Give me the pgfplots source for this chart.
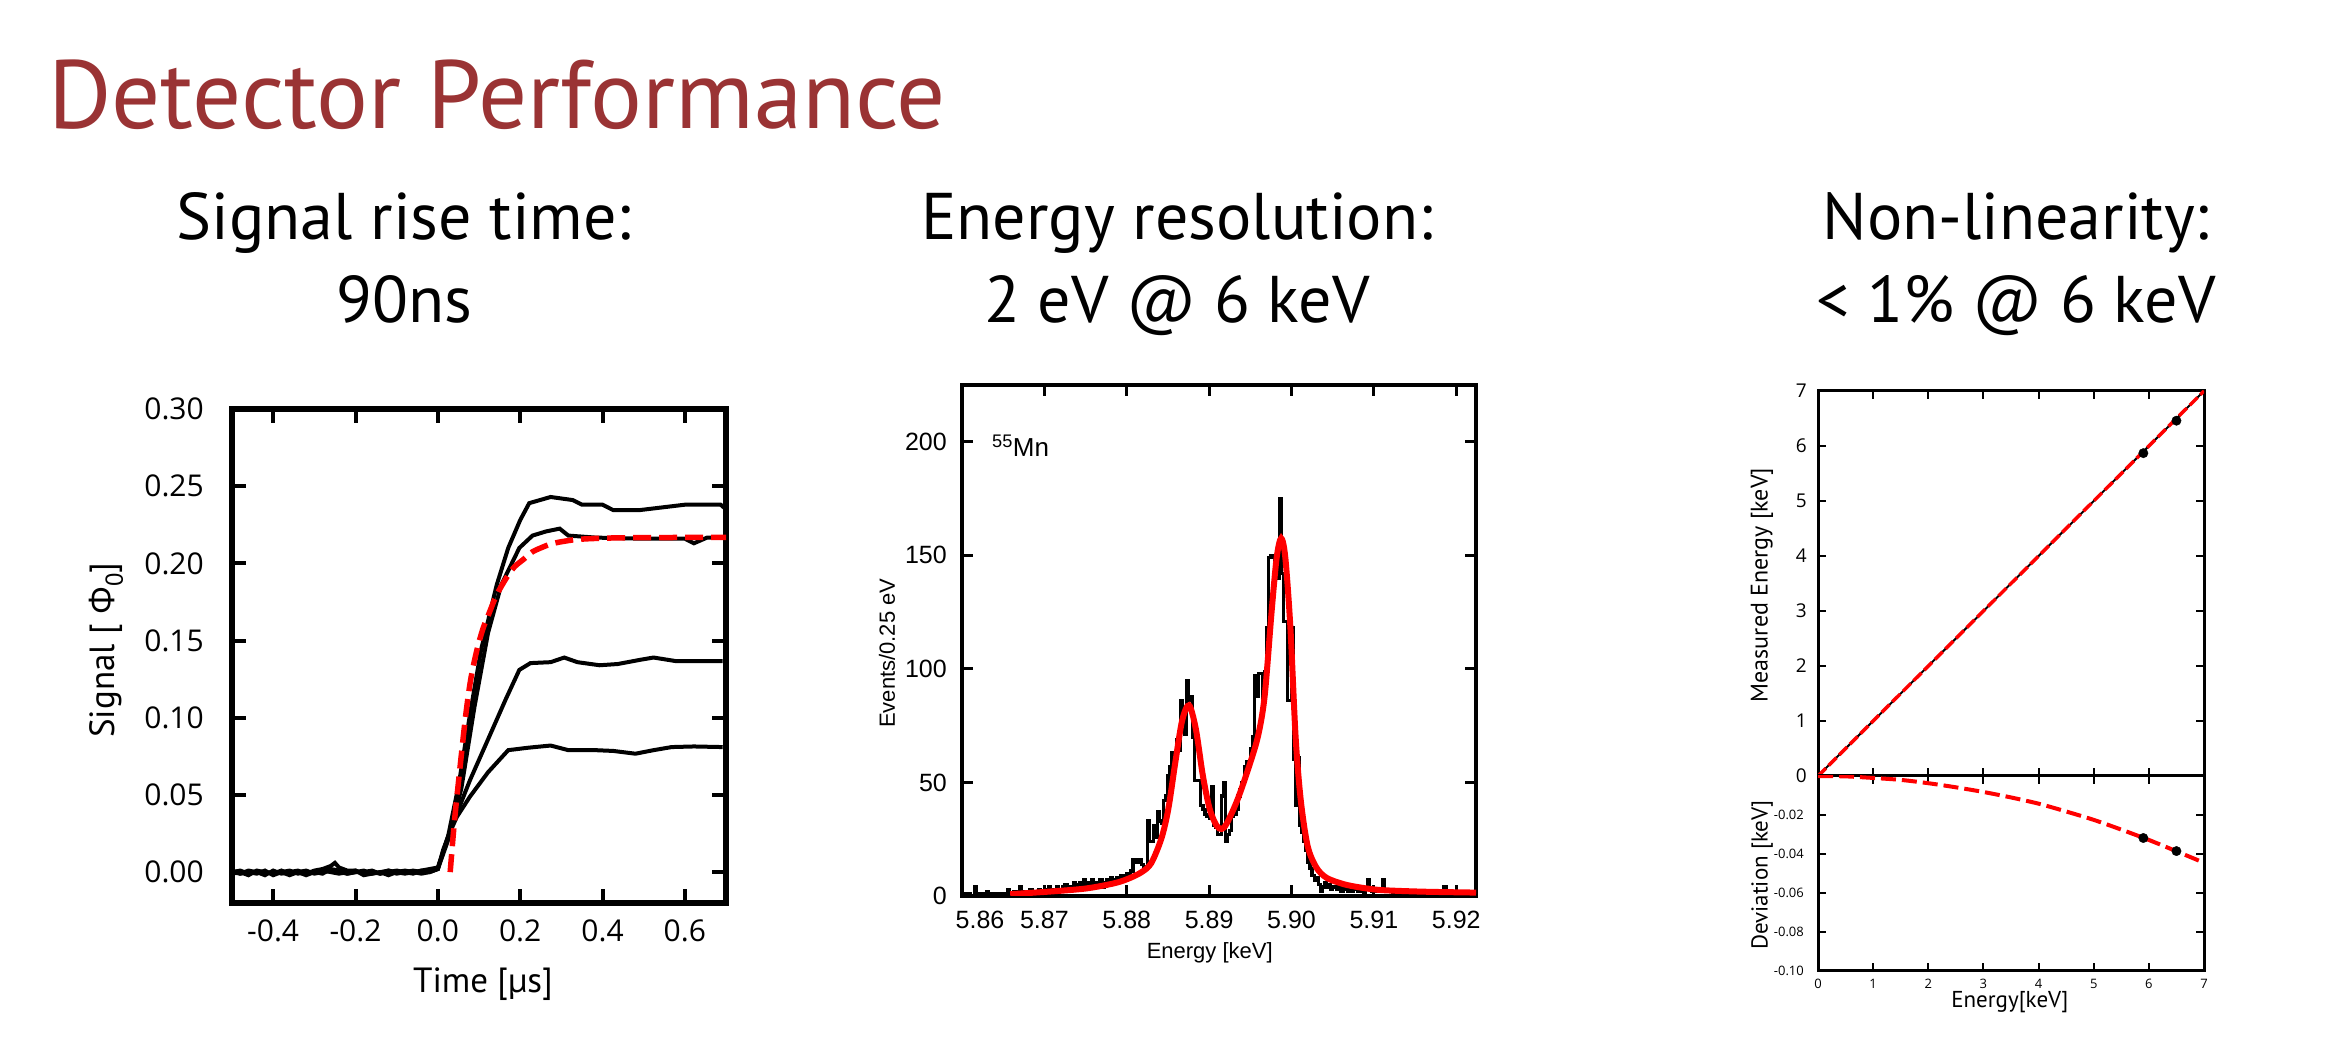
\documentclass[border=0pt]{standalone}
\usepackage{fontspec}
\setmainfont{PT Sans}
\newfontfamily\arialf{Liberation Sans}
\newfontfamily\grk{Open Sans}
\usepackage{pgfplots}
\pgfplotsset{compat=1.18}
\definecolor{titlered}{RGB}{154,51,52}
\newcommand{\fs}[1]{\fontsize{#1}{#1}\selectfont}
\pgfplotsset{fx1/.style={/pgf/number format/fixed, /pgf/number format/fixed zerofill, /pgf/number format/precision=1},
fx2/.style={/pgf/number format/fixed, /pgf/number format/fixed zerofill, /pgf/number format/precision=2}}
\begin{document}
\begin{tikzpicture}[x=1pt,y=1pt]
\useasboundingbox (0pt,0pt) rectangle (2342pt,1038pt);
% titles
\node[anchor=base west, text=titlered, inner sep=0pt] at (48pt,909pt) {\fs{97}Detector Performance};
\node[anchor=base, inner sep=0pt] at (404pt,798pt) {\fs{66}Signal rise time:};
\node[anchor=base, inner sep=0pt] at (404pt,715pt) {\fs{66}90ns};
\node[anchor=base, inner sep=0pt] at (1177pt,798pt) {\fs{66}Energy resolution:};
\node[anchor=base, inner sep=0pt] at (1177pt,715pt) {\fs{66}2 eV @ 6 keV};
\node[anchor=base, inner sep=0pt] at (2016pt,798pt) {\fs{66}Non-linearity:};
\node[anchor=base, inner sep=0pt] at (2016pt,715pt) {\fs{66}< 1\% @ 6 keV};

% ---------------- plot 1 ----------------
\begin{axis}[at={(232pt,135pt)}, anchor=south west, scale only axis,
  width=494pt, height=494pt,
  xmin=-0.5, xmax=0.7, ymin=-0.02, ymax=0.30,
  xtick={-0.4,-0.2,0,0.2,0.4,0.6},
  ytick={0,0.05,0.1,0.15,0.2,0.25,0.3},
  /pgf/number format/assume math mode=true,
  xticklabel style={fx1},
  yticklabel style={fx2},
  tick label style={font=\grk\fs{30}, inner sep=0pt},
  xticklabel shift=17pt, yticklabel shift=28pt,
  axis line style={line width=5.5pt},
  tick style={line width=4pt, black},
  major tick length=14pt,
  xlabel={Time [µs]}, ylabel={Signal [ {\grk Φ}\textsubscript{0}]},
  label style={font=\fs{35}},
  xlabel style={at={(axis description cs:0.508,-0.164)}, anchor=center},
  ylabel style={at={(axis description cs:-0.255,0.512)}, anchor=center},
  clip=true]
% curve A
\addplot[black, line width=4pt] coordinates {
(-0.50,0.000)(-0.48,-0.001)(-0.46,0.001)(-0.44,0.000)(-0.42,-0.002)(-0.40,0.001)(-0.38,-0.001)(-0.36,0.000)(-0.34,0.001)(-0.32,-0.001)(-0.30,0.001)(-0.28,0.002)(-0.26,0.004)(-0.25,0.006)(-0.24,0.003)(-0.22,0.001)(-0.20,0.001)(-0.18,-0.001)(-0.16,0.000)(-0.14,-0.001)(-0.12,0.000)(-0.10,0.001)(-0.08,0.000)(-0.06,-0.001)(-0.04,0.001)(-0.02,0.002)(0.00,0.003)
(0.024,0.022)(0.051,0.057)(0.078,0.102)(0.105,0.144)(0.143,0.186)(0.171,0.210)(0.20,0.228)(0.222,0.239)(0.274,0.243)(0.328,0.241)(0.35,0.238)(0.40,0.238)(0.426,0.2345)(0.49,0.2345)(0.60,0.238)(0.687,0.238)(0.70,0.235)};
% curve B
\addplot[black, line width=4pt] coordinates {
(-0.50,-0.001)(-0.48,0.000)(-0.46,-0.002)(-0.44,0.001)(-0.42,0.000)(-0.40,-0.001)(-0.38,0.000)(-0.36,-0.002)(-0.34,0.000)(-0.32,0.001)(-0.30,-0.001)(-0.28,0.000)(-0.26,0.001)(-0.24,0.000)(-0.22,-0.001)(-0.20,0.000)(-0.18,0.001)(-0.16,-0.001)(-0.14,0.000)(-0.12,-0.002)(-0.10,0.000)(-0.08,0.001)(-0.06,0.000)(-0.04,-0.001)(-0.02,0.000)(0.00,0.002)
(0.024,0.020)(0.057,0.054)(0.089,0.107)(0.122,0.155)(0.154,0.186)(0.198,0.210)(0.230,0.218)(0.263,0.2207)(0.296,0.2225)(0.317,0.218)(0.383,0.2167)(0.491,0.216)(0.60,0.216)(0.622,0.213)(0.654,0.2167)(0.70,0.2167)};
% curve C
\addplot[black, line width=4pt] coordinates {
(-0.50,0.001)(-0.48,-0.001)(-0.46,0.000)(-0.44,-0.001)(-0.42,0.001)(-0.40,-0.002)(-0.38,0.000)(-0.36,0.001)(-0.34,-0.001)(-0.32,0.000)(-0.30,0.000)(-0.28,-0.001)(-0.26,0.002)(-0.24,0.001)(-0.22,-0.001)(-0.20,0.000)(-0.18,0.000)(-0.16,0.001)(-0.14,-0.001)(-0.12,0.001)(-0.10,-0.001)(-0.08,0.000)(-0.06,0.001)(-0.04,0.000)(-0.02,0.001)(0.00,0.002)
(0.013,0.0145)(0.046,0.038)(0.078,0.0595)(0.122,0.086)(0.165,0.112)(0.198,0.131)(0.225,0.1354)(0.274,0.136)(0.307,0.139)(0.339,0.136)(0.393,0.134)(0.437,0.1348)(0.491,0.1375)(0.524,0.139)(0.578,0.1367)(0.622,0.1367)(0.692,0.1367)};
% curve D
\addplot[black, line width=4pt] coordinates {
(-0.50,0.000)(-0.48,0.001)(-0.46,-0.001)(-0.44,0.000)(-0.42,0.000)(-0.40,-0.001)(-0.38,0.001)(-0.36,-0.001)(-0.34,0.000)(-0.32,-0.002)(-0.30,0.000)(-0.28,0.001)(-0.26,0.000)(-0.24,-0.001)(-0.22,0.000)(-0.20,0.001)(-0.18,-0.002)(-0.16,-0.001)(-0.14,0.000)(-0.12,0.001)(-0.10,0.000)(-0.08,-0.001)(-0.06,0.000)(-0.04,0.001)(-0.02,0.000)(0.00,0.002)
(0.024,0.0225)(0.046,0.0357)(0.078,0.0489)(0.122,0.0647)(0.171,0.079)(0.22,0.0806)(0.274,0.082)(0.317,0.079)(0.383,0.079)(0.426,0.0785)(0.48,0.0767)(0.524,0.079)(0.568,0.081)(0.622,0.0814)(0.692,0.081)};
% fit
\addplot[red, line width=5.5pt, dash pattern=on 18pt off 8pt, smooth] coordinates {
(0.030,0.000)(0.040,0.032)(0.050,0.058)(0.067,0.100)(0.080,0.125)(0.095,0.144)(0.110,0.158)(0.122,0.166)(0.140,0.178)(0.154,0.185)(0.170,0.192)(0.187,0.198)(0.210,0.203)(0.230,0.2075)(0.250,0.210)(0.274,0.2125)(0.30,0.214)(0.339,0.2155)(0.40,0.2163)(0.50,0.2167)(0.70,0.2168)};
\end{axis}

% ---------------- plot 2 ----------------
\begin{axis}[at={(962pt,142pt)}, anchor=south west, scale only axis,
  width=514pt, height=511pt,
  xmin=5.86, xmax=5.9224, ymin=0, ymax=225,
  xtick={5.87,5.88,5.89,5.90,5.91,5.92},
  ytick={0,50,100,150,200},
  /pgf/number format/assume math mode=true,
  xticklabel style={fx2},
  extra x ticks={5.86}, extra x tick labels={5.86},
  extra x tick style={major tick length=0pt, xticklabel style={xshift=18pt}},
  tick label style={font=\arialf\fs{25}, inner sep=0pt},
  xticklabel shift=15pt, yticklabel shift=15pt,
  axis line style={line width=3.5pt},
  tick style={line width=3pt, black},
  major tick length=11pt,
  xlabel={Energy [keV]}, ylabel={Events/0.25 eV},
  label style={font=\arialf\fs{22}},
  xlabel style={at={(axis description cs:0.482,-0.112)}, anchor=center},
  ylabel style={at={(axis description cs:-0.146,0.475)}, anchor=center},
  clip=true]
\addplot[black, line width=3.2pt, const plot mark left] table {
x y
5.86000 0
5.86025 1
5.86050 0
5.86075 1
5.86100 0
5.86125 0
5.86150 4
5.86175 1
5.86200 0
5.86225 1
5.86250 0
5.86275 1
5.86300 2
5.86325 1
5.86350 0
5.86375 1
5.86400 1
5.86425 0
5.86450 1
5.86475 1
5.86500 1
5.86525 0
5.86550 3
5.86575 1
5.86600 1
5.86625 2
5.86650 1
5.86675 2
5.86700 4
5.86725 2
5.86750 2
5.86775 1
5.86800 2
5.86825 3
5.86850 1
5.86875 2
5.86900 2
5.86925 3
5.86950 2
5.86975 1
5.87000 2
5.87025 3
5.87050 4
5.87075 2
5.87100 3
5.87125 2
5.87150 4
5.87175 3
5.87200 2
5.87225 4
5.87250 5
5.87275 3
5.87300 4
5.87325 3
5.87350 6
5.87375 4
5.87400 5
5.87425 6
5.87450 4
5.87475 7
5.87500 5
5.87525 6
5.87550 4
5.87575 7
5.87600 5
5.87625 6
5.87650 5
5.87675 7
5.87700 4
5.87725 6
5.87750 7
5.87775 5
5.87800 8
5.87825 7
5.87850 6
5.87875 8
5.87900 7
5.87925 9
5.87950 8
5.87975 9
5.88000 10
5.88025 9
5.88050 11
5.88075 16
5.88100 16
5.88125 15
5.88150 16
5.88175 14
5.88200 13
5.88225 13
5.88250 33
5.88275 24
5.88300 24
5.88325 31
5.88350 26
5.88375 37
5.88400 33
5.88425 32
5.88450 42
5.88475 44
5.88500 53
5.88525 57
5.88550 63
5.88575 63
5.88600 69
5.88625 64
5.88650 86
5.88675 78
5.88700 71
5.88725 95
5.88750 86
5.88775 88
5.88800 70
5.88825 51
5.88850 51
5.88875 51
5.88900 40
5.88925 38
5.88950 36
5.88975 35
5.89000 34
5.89025 48
5.89050 31
5.89075 30
5.89100 27
5.89125 27
5.89150 44
5.89175 50
5.89200 24
5.89225 27
5.89250 29
5.89275 35
5.89300 36
5.89325 38
5.89350 44
5.89375 47
5.89400 50
5.89425 57
5.89450 59
5.89475 59
5.89500 65
5.89525 70
5.89550 97
5.89575 88
5.89600 98
5.89625 98
5.89650 85
5.89675 99
5.89700 118
5.89725 149
5.89750 150
5.89775 149
5.89800 147
5.89825 140
5.89850 175
5.89875 142
5.89900 121
5.89925 121
5.89950 86
5.89975 86
5.90000 118
5.90025 60
5.90050 40
5.90075 61
5.90100 31
5.90125 28
5.90150 24
5.90175 20
5.90200 15
5.90225 12
5.90250 9
5.90275 7
5.90300 8
5.90325 5
5.90350 2
5.90375 4
5.90400 6
5.90425 4
5.90450 5
5.90475 3
5.90500 4
5.90525 4
5.90550 3
5.90575 5
5.90600 2
5.90625 4
5.90650 3
5.90675 2
5.90700 3
5.90725 2
5.90750 4
5.90775 3
5.90800 2
5.90825 3
5.90850 2
5.90875 1
5.90900 3
5.90925 7
5.90950 3
5.90975 2
5.91000 3
5.91025 2
5.91050 2
5.91075 3
5.91100 7
5.91125 3
5.91150 2
5.91175 3
5.91200 2
5.91225 1
5.91250 2
5.91275 1
5.91300 2
5.91325 1
5.91350 2
5.91375 1
5.91400 1
5.91425 2
5.91450 1
5.91475 1
5.91500 2
5.91525 1
5.91550 1
5.91575 2
5.91600 1
5.91625 1
5.91650 2
5.91675 1
5.91700 1
5.91725 1
5.91750 2
5.91775 1
5.91800 1
5.91825 2
5.91850 4
5.91875 2
5.91900 1
5.91925 2
5.91950 2
5.91975 1
5.92000 2
5.92025 1
5.92050 2
5.92075 1
5.92100 2
5.92125 1
5.92150 2
5.92175 1
5.92200 1
5.92225 1
5.92250 1
};
\addplot[red, line width=6pt, smooth] coordinates {
(5.86585,0.8)(5.87086,2)(5.87503,3.3)(5.87837,5.5)(5.88004,7.4)(5.88171,10.3)(5.88296,14.4)(5.88422,25.5)(5.88505,38.4)(5.88589,58.7)(5.88672,77.2)(5.88756,84.0)(5.88839,73.5)(5.88923,53.2)(5.89006,38.4)(5.8909,31)(5.89152,29.5)(5.89215,32)(5.8934,42)(5.89466,55)(5.89591,70)(5.89674,88)(5.89758,125)(5.8982,149)(5.89875,157.5)(5.89925,149)(5.89987,118)(5.9005,70)(5.90113,42)(5.90196,22)(5.90301,12.6)(5.90426,8)(5.90635,5.2)(5.90843,3.7)(5.91094,2.6)(5.9160,1.9)(5.9224,1.5)};
\end{axis}
\node[anchor=base west, inner sep=0pt] at (992pt,581pt) {\arialf\fs{26}\textsuperscript{55}Mn};

% ---------------- plot 3 upper ----------------
\begin{axis}[at={(1818pt,262pt)}, anchor=south west, scale only axis,
  width=386pt, height=385pt,
  xmin=0, xmax=7, ymin=0, ymax=7,
  xtick={0,1,2,3,4,5,6,7}, xticklabels={},
  ytick={0,1,2,3,4,5,6,7},
  /pgf/number format/assume math mode=true,
  tick label style={font=\grk\fs{19}, inner sep=0pt},
  yticklabel shift=11pt,
  axis line style={line width=3pt},
  tick style={line width=2pt, black},
  major tick length=8pt,
  ylabel={Measured Energy [keV]},
  label style={font=\fs{24}},
  ylabel style={at={(axis description cs:-0.145,0.496)}, anchor=center},
  clip=true]
\addplot[black, line width=2pt] coordinates {(0,0)(7,7)};
\addplot[red, line width=3.5pt, dash pattern=on 11pt off 4pt] coordinates {(0,0)(7,7)};
\addplot[only marks, mark=*, mark size=4.7pt, black] coordinates {(5.9,5.87)(6.5,6.46)};
\end{axis}

% ---------------- plot 3 lower ----------------
\begin{axis}[at={(1818pt,67pt)}, anchor=south west, scale only axis,
  width=386pt, height=195pt,
  xmin=0, xmax=7, ymin=-0.1, ymax=0,
  xtick={0,1,2,3,4,5,6,7},
  ytick={-0.1,-0.08,-0.06,-0.04,-0.02},
  /pgf/number format/assume math mode=true,
  yticklabel style={fx2},
  tick label style={font=\grk\fs{13}, inner sep=0pt},
  yticklabel shift=14pt, xticklabel shift=8pt,
  axis line style={line width=3pt},
  tick style={line width=2pt, black},
  major tick length=8pt,
  xlabel={Energy[keV]}, ylabel={Deviation [keV]},
  label style={font=\fs{23}},
  xlabel style={at={(axis description cs:0.497,-0.159)}, anchor=center},
  ylabel style={at={(axis description cs:-0.145,0.492)}, anchor=center},
  clip=true]
\addplot[red, line width=4pt, dash pattern=on 15pt off 6pt, smooth] coordinates {
(0,0)(0.5,-0.0002)(1,-0.001)(1.5,-0.002)(2,-0.0037)(2.5,-0.0058)(3,-0.0082)(3.5,-0.011)(4,-0.0142)(4.5,-0.0182)(5,-0.0225)(5.5,-0.0275)(6,-0.0328)(6.5,-0.0386)(7,-0.0445)};
\addplot[only marks, mark=*, mark size=4.7pt, black] coordinates {(5.9,-0.0318)(6.5,-0.0385)};
\end{axis}
\end{tikzpicture}
\end{document}
